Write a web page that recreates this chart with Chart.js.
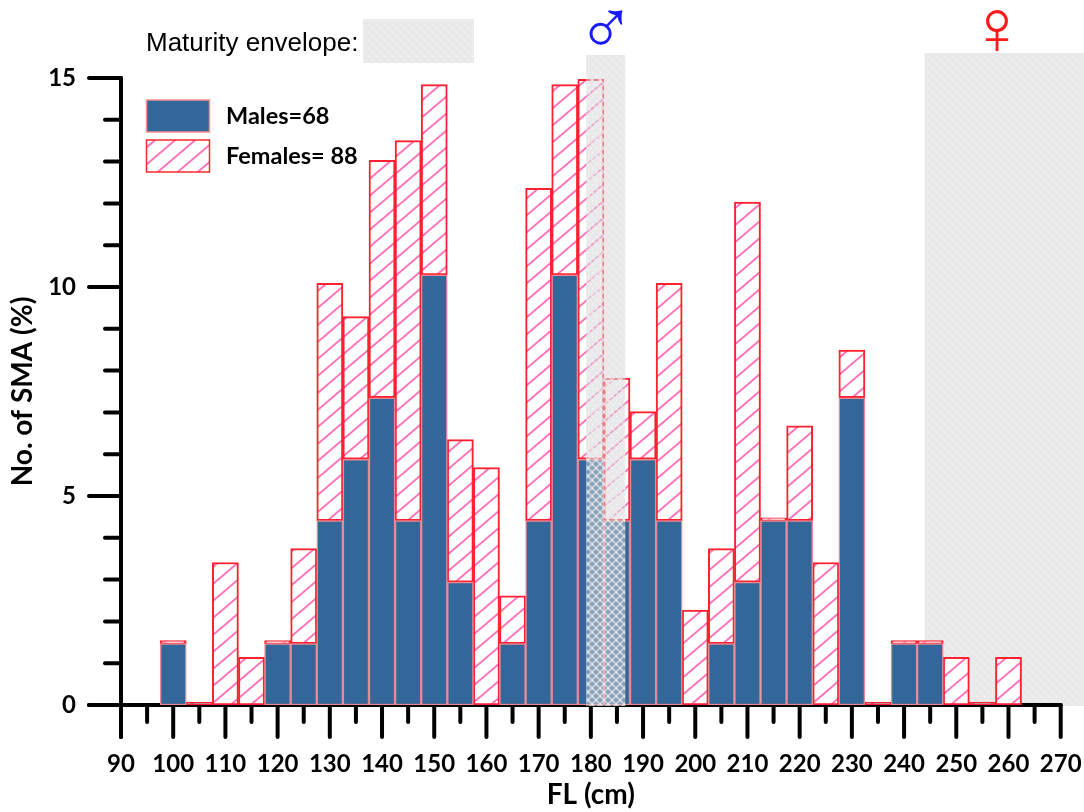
<!DOCTYPE html>
<html>
<head>
<meta charset="utf-8">
<title>SMA length frequency</title>
<script src="https://cdn.jsdelivr.net/npm/chart.js@4"></script>
<style>
    html, body { margin: 0; padding: 0; background: #fff; }
    canvas { display: block; }
</style>
</head>
<body>
<canvas id="smaChart" width="1084" height="812"></canvas>
<script>
// Values (FL bins in cm, % of SMA)
const flBins = [100, 105, 110, 115, 120, 125, 130, 135, 140, 145, 150, 155, 160, 165, 170, 175, 180,
    185, 190, 195, 200, 205, 210, 215, 220, 225, 230, 235, 240, 245, 250, 255, 260];
const malesPct = [1.47, 0, 0, 0, 1.47, 1.47, 4.41, 5.88, 7.35, 4.41, 10.29, 2.94, 0, 1.47, 4.41, 10.29, 5.88,
    4.41, 5.88, 4.41, 0, 1.47, 2.94, 4.41, 4.41, 0, 7.35, 0, 1.47, 1.47, 0, 0, 0];
// 0.07 = the thin red line the original shows on top of empty female bins
const femalesPct = [0.07, 0.07, 3.41, 1.14, 0.07, 2.27, 5.68, 3.41, 5.68, 9.09, 4.55, 3.41, 5.68, 1.14, 7.95, 4.55, 9.09,
    3.41, 1.14, 5.68, 2.27, 2.27, 9.09, 0.07, 2.27, 3.41, 1.14, 0.07, 0.07, 0.07, 1.14, 0.07, 1.14];
const maleEnvelope = [179.1, 186.6];
const femaleEnvelope = [243.9, 274.6];

const seriesLabels = ['Males=68', 'Females= 88'];
const envelopeLabel = 'Maturity envelope:';
const maleBlue = '#336699';
const ink = '#000';

// Diagonal pink hatch on white
function makeHatch() {
    const w = 20;
    const h = 17;
    const tile = document.createElement('canvas');
    tile.width = w;
    tile.height = h;
    const c = tile.getContext('2d');
    c.fillStyle = '#fff';
    c.fillRect(0, 0, w, h);
    c.strokeStyle = '#ff74ba';
    c.lineWidth = 2;
    [[-w, h, w, -h], [0, h, w, 0], [0, 2 * h, 2 * w, 0]].forEach(l => {
        c.beginPath();
        c.moveTo(l[0], l[1]);
        c.lineTo(l[2], l[3]);
        c.stroke();
    });
    return c.createPattern(tile, 'repeat');
}

// Grey lattice of the maturity envelope, partly see-through
function makeLattice() {
    const size = 8;
    const tile = document.createElement('canvas');
    tile.width = size;
    tile.height = size;
    const c = tile.getContext('2d');
    c.fillStyle = 'rgba(214,214,216,0.52)';
    c.fillRect(0, 0, size, size);
    c.strokeStyle = 'rgba(234,234,236,0.7)';
    c.lineWidth = 1.6;
    [[0, 0, 8, 8], [0, 8, 8, 0], [-4, 4, 4, -4], [4, 12, 12, 4], [-4, 4, 4, 12], [4, -4, 12, 4]].forEach(l => {
        c.beginPath();
        c.moveTo(l[0], l[1]);
        c.lineTo(l[2], l[3]);
        c.stroke();
    });
    c.fillStyle = 'rgba(255,255,255,0.8)';
    c.fillRect(0, 0, 1, 1);
    c.fillRect(4, 4, 1, 1);
    return c.createPattern(tile, 'repeat');
}

const hatch = makeHatch();
const lattice = makeLattice();

function drawBand(chart, range, top) {
    const { ctx, scales: { x, y } } = chart;
    const left = x.getPixelForValue(range[0]);
    ctx.fillStyle = lattice;
    ctx.fillRect(left, top, x.getPixelForValue(range[1]) - left, y.getPixelForValue(0) + 1 - top);
}

// Axis lines and the long/short tick marks come from the scales
const axisPlugin = {
    id: 'axisMarks',
    beforeDatasetsDraw(chart) {
        const { ctx, scales: { x, y } } = chart;
        const y0 = y.getPixelForValue(0);
        const x0 = x.getPixelForValue(90);
        ctx.save();

        // Female envelope sits behind the axis and the bars
        drawBand(chart, femaleEnvelope, 53);

        ctx.strokeStyle = ink;
        ctx.lineWidth = 4;
        ctx.lineCap = 'round';
        const seg = (a, b, c, d) => {
            ctx.beginPath();
            ctx.moveTo(a, b);
            ctx.lineTo(c, d);
            ctx.stroke();
        };
        seg(x0, y.getPixelForValue(15), x0, y0 + 32);
        seg(x0 - 32, y0, x.getPixelForValue(270), y0);
        x.ticks.forEach(t => {
            const px = x.getPixelForValue(t.value);
            seg(px, y0, px, y0 + (t.value % 10 === 0 ? 32 : 17));
        });
        y.ticks.forEach(t => {
            const py = y.getPixelForValue(t.value);
            seg(x0, py, x0 - (t.value % 5 === 0 ? 32 : 16), py);
        });
        ctx.restore();
    },
    afterDatasetsDraw(chart) {
        const { ctx } = chart;
        ctx.save();

        // Male envelope goes over the bars
        drawBand(chart, maleEnvelope, 55);

        // Key at the top
        ctx.fillRect(363, 19, 111, 44);
        ctx.fillStyle = ink;
        ctx.font = '26px "Liberation Sans"';
        ctx.textBaseline = 'middle';
        ctx.textAlign = 'left';
        ctx.fillText(envelopeLabel, 146, 44);

        // Sex symbols
        ctx.textAlign = 'center';
        ctx.font = '78px "Liberation Sans"';
        ctx.fillStyle = '#1a1aff';
        ctx.fillText('♂', 606, 32);
        ctx.fillStyle = '#ff1a1a';
        ctx.fillText('♀', 997, 32);

        // Series legend
        ctx.textAlign = 'left';
        ctx.font = 'bold 23.5px Lato';
        [[maleBlue, '#ff9090'], [hatch, '#ff2a2a']].forEach((s, i) => {
            const top = 100 + i * 40;
            ctx.fillStyle = s[0];
            ctx.fillRect(146.5, top, 63, 32);
            ctx.strokeStyle = s[1];
            ctx.lineWidth = 1.5;
            ctx.strokeRect(146.5, top, 63, 32);
            ctx.fillStyle = ink;
            ctx.fillText(seriesLabels[i], 226, top + 16);
        });
        ctx.restore();
    }
};

new Chart(document.getElementById('smaChart'), {
    type: 'bar',
    data: {
        datasets: [{
            label: seriesLabels[0],
            data: flBins.map((fl, i) => ({ x: fl, y: malesPct[i] })),
            backgroundColor: maleBlue,
            borderColor: '#e88a96',
            borderWidth: 1.5,
            borderSkipped: false
        }, {
            label: seriesLabels[1],
            data: flBins.map((fl, i) => ({ x: fl, y: femalesPct[i] })),
            backgroundColor: hatch,
            borderColor: '#ff2030',
            borderWidth: 2,
            borderSkipped: false
        }]
    },
    options: {
        responsive: false,
        animation: false,
        barPercentage: 1,
        categoryPercentage: 1,
        layout: { autoPadding: false, padding: { top: 78, right: 23.3, left: 0, bottom: 0 } },
        plugins: {
            legend: { display: false },
            tooltip: { enabled: false }
        },
        scales: {
            x: {
                type: 'linear',
                offset: false,
                stacked: true,
                min: 90,
                max: 270,
                afterFit: scale => {
                    scale.height = 107;
                    scale.paddingLeft = 0;
                    scale.paddingRight = 0;
                },
                grid: { display: false },
                border: { display: false },
                ticks: {
                    stepSize: 5,
                    autoSkip: false,
                    maxRotation: 0,
                    padding: 37,
                    color: ink,
                    font: { family: 'Lato', weight: 'bold', size: 24 },
                    callback: v => (v % 10 === 0 ? String(v) : '')
                },
                title: {
                    display: true,
                    text: 'FL (cm)',
                    color: ink,
                    font: { family: 'Lato', weight: 'bold', size: 28 },
                    padding: { top: 0, bottom: 0 }
                }
            },
            y: {
                stacked: true,
                min: 0,
                max: 15,
                afterFit: scale => { scale.width = 121; },
                grid: { display: false },
                border: { display: false },
                ticks: {
                    stepSize: 1,
                    autoSkip: false,
                    padding: 37,
                    color: ink,
                    font: { family: 'Lato', weight: 'bold', size: 24 },
                    callback: v => (v % 5 === 0 ? String(v) : '')
                },
                title: {
                    display: true,
                    text: 'No. of SMA (%)',
                    color: ink,
                    font: { family: 'Lato', weight: 'bold', size: 28 },
                    padding: { top: 6, bottom: 0 }
                }
            }
        }
    },
    plugins: [axisPlugin]
});
</script>
</body>
</html>
